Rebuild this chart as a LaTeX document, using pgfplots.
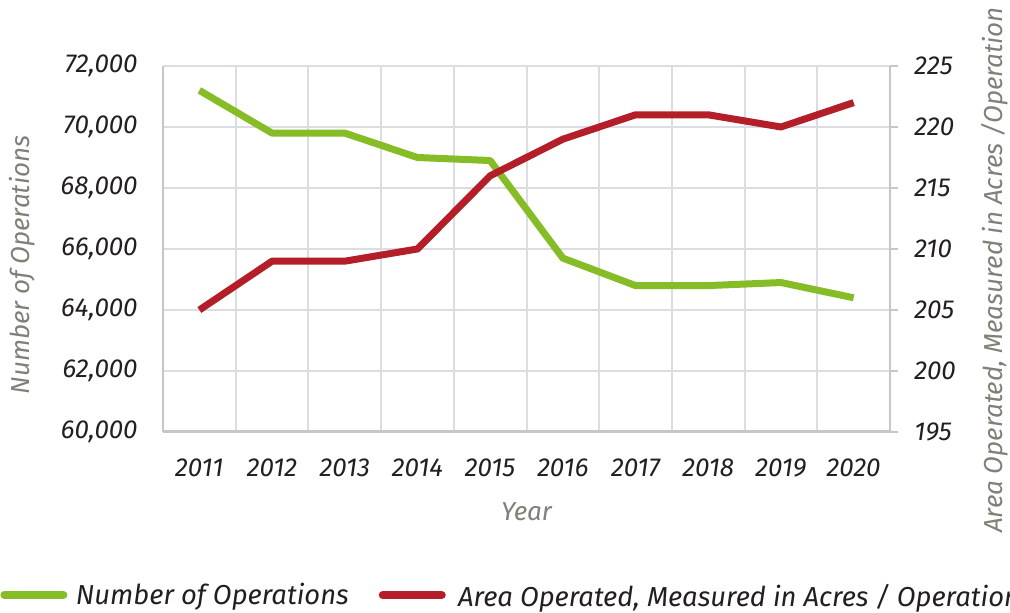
\documentclass[border=0pt]{standalone}
\usepackage{pgfplots}
\usepackage{pgfplotstable}
\pgfplotsset{compat=1.18}
\usepackage{fontspec}
\setmainfont{Fira Sans}
\definecolor{cgreen}{RGB}{134,188,37}
\definecolor{cred}{RGB}{180,30,40}
\definecolor{cgrid}{RGB}{220,221,226}
\definecolor{caxis}{RGB}{196,198,204}
\definecolor{ctitle}{RGB}{128,128,120}
\definecolor{ctext}{RGB}{35,31,32}
\pgfplotstableread{
x ops area
0 71200 205
1 69800 209
2 69800 209
3 69000 210
4 68900 216
5 65700 219
6 64800 221
7 64800 221
8 64900 220
9 64400 222
}\datatable
\begin{document}
\begin{tikzpicture}
\pgfplotsset{
  common/.style={
    at={(81.5pt,90.5pt)}, anchor=south west,
    scale only axis, width=363.5pt, height=183pt,
    xmin=-0.5, xmax=9.5,
    /pgf/number format/assume math mode=true,
    /pgf/number format/1000 sep={,},
    tick label style={font=\fontsize{13}{15}\selectfont\itshape, text=ctext},
    label style={font=\fontsize{13}{15}\selectfont\itshape, text=ctitle},
  }
}
\begin{axis}[common,
  ymin=60000, ymax=72000,
  ytick={60000,62000,...,72000},
  scaled y ticks=false,
  xtick={0,...,9}, xticklabels={2011,2012,2013,2014,2015,2016,2017,2018,2019,2020},
  minor xtick={-0.5,0.5,...,9.5},
  xminorgrids=true, ymajorgrids=true,
  grid style={cgrid, line width=1pt},
  minor grid style={cgrid, line width=1pt},
  major tick length=0pt, minor tick length=0pt,
  axis y line*=left, axis x line*=bottom,
  y axis line style={caxis, line width=1pt},
  x axis line style={caxis, line width=1.5pt, -},
  yticklabel style={anchor=east, inner sep=0pt, xshift=-12.5pt},
  xticklabel style={anchor=north, inner sep=0pt, yshift=-13pt},
  xlabel={Year},
  xlabel style={at={(axis description cs:0.5,-0.2186)}, anchor=center},
  ylabel={Number of Operations},
  ylabel style={at={(axis description cs:-0.194,0.456)}, anchor=center},
  legend columns=2,
  legend style={draw=none, fill=none, inner sep=0pt,
    at={(axis description cs:-0.2242,-0.4454)}, anchor=west,
    font=\fontsize{13.7}{16}\selectfont\itshape, text=ctext,
    /tikz/every even column/.append style={column sep=13pt}},
  legend cell align=left,
  legend image code/.code={\draw[#1, line cap=round, line width=4pt] (2pt,0pt) -- (31.5pt,0pt); \path (34pt,0pt);},
]
\addplot[cgreen, line width=3.5pt, line join=round] table[x=x, y=ops] {\datatable};
\addlegendentry{Number of Operations}
\addlegendimage{cred}
\addlegendentry{\hspace{3.5pt}\raisebox{-2pt}{Area Operated, Measured in Acres / Operations}}
\end{axis}
\begin{axis}[common,
  ymin=195, ymax=225,
  ytick={195,200,...,225},
  axis y line*=right, axis x line=none,
  y axis line style={caxis, line width=1pt},
  major tick length=4pt, tick align=outside,
  major tick style={caxis, line width=1pt},
  yticklabel style={anchor=west, inner sep=0pt, xshift=8pt},
  ylabel={Area Operated, Measured in Acres /Operation},
  ylabel style={at={(axis description cs:1.1444,0.443)}, anchor=center},
]
\addplot[cred, line width=3.5pt, line join=round] table[x=x, y=area] {\datatable};
\end{axis}
\pgfresetboundingbox
\path[use as bounding box] (0,0) rectangle (505pt,306.5pt);
\end{tikzpicture}
\end{document}
